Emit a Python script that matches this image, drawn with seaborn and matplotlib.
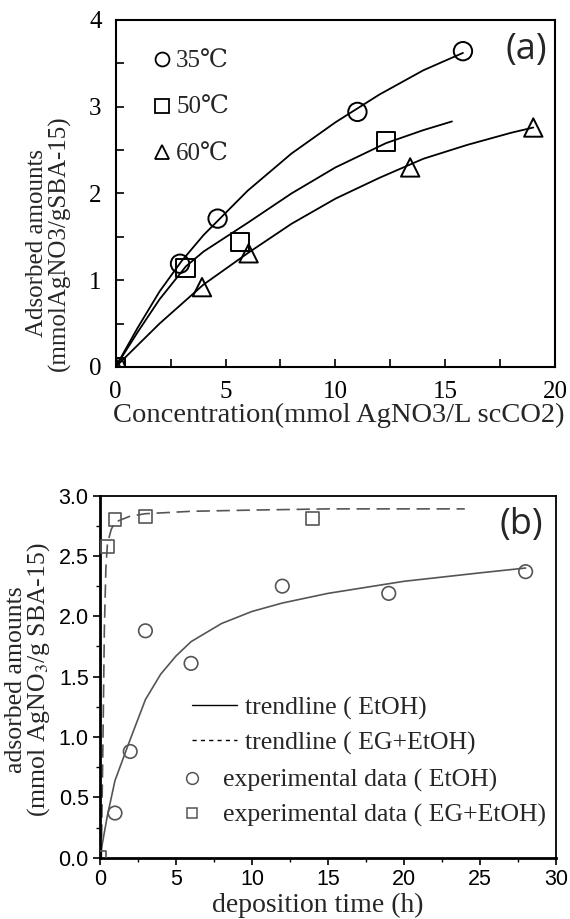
import numpy as np
import pandas as pd
import matplotlib
matplotlib.use("Agg")
import matplotlib.pyplot as plt
from matplotlib.lines import Line2D
from matplotlib.ticker import MultipleLocator, FormatStrFormatter
import seaborn as sns

sns.set_theme(style="white")
plt.rcParams['font.family'] = ['Liberation Serif', 'DejaVu Serif', 'DejaVu Sans']
plt.rcParams['mathtext.fontset'] = 'stix'

# ---------------- Panel (a) data ----------------
temps = ["35℃", "50℃", "60℃"]
markers_a = ["o", "s", "^"]
x35 = [0, 2.93, 4.64, 11.0, 15.8]
y35 = [0, 1.19, 1.71, 2.94, 3.64]
x50 = [0, 3.18, 5.67, 12.3]
y50 = [0, 1.14, 1.44, 2.60]
x60 = [0, 3.93, 6.05, 13.4, 19.0]
y60 = [0, 0.92, 1.31, 2.30, 2.76]
# fitted curves
cx35 = [0, 1, 2, 3, 4, 6, 8, 10, 12, 14, 15.8]
cy35 = [0, 0.45, 0.87, 1.22, 1.52, 2.03, 2.46, 2.82, 3.14, 3.42, 3.62]
cx50 = [0, 1, 2, 3.2, 4, 6, 8, 10, 12.3, 14, 15.3]
cy50 = [0, 0.40, 0.78, 1.16, 1.33, 1.66, 2.00, 2.30, 2.58, 2.73, 2.83]
cx60 = [0, 2, 4, 6, 8, 10, 12, 14, 16, 18, 19]
cy60 = [0, 0.50, 0.95, 1.31, 1.65, 1.94, 2.18, 2.40, 2.56, 2.70, 2.76]

# ---------------- Panel (b) data ----------------
t_etoh = [1, 2, 3, 6, 12, 19, 28]
q_etoh = [0.37, 0.88, 1.88, 1.61, 2.25, 2.19, 2.37]
t_eg = [0, 0.5, 1, 3, 14]
q_eg = [0.0, 2.58, 2.80, 2.83, 2.81]
ct_etoh = [0, 0.5, 1, 2, 3, 4, 5, 6, 8, 10, 12, 15, 20, 25, 28]
cq_etoh = [0, 0.35, 0.64, 0.98, 1.31, 1.52, 1.67, 1.79, 1.94, 2.04, 2.11, 2.19, 2.29, 2.36, 2.40]
ct_eg = [0.1, 0.2, 0.3, 0.4, 0.5, 0.75, 1, 2, 3, 6, 10, 15, 24]
cq_eg = [0.0, 0.9, 1.9, 2.4, 2.6, 2.72, 2.78, 2.83, 2.85, 2.87, 2.88, 2.89, 2.89]
leg_b = ["trendline ( EtOH)", "trendline ( EG+EtOH)",
         "experimental data ( EtOH)", "experimental data ( EG+EtOH)"]

fig = plt.figure(figsize=(5.7, 9.19), dpi=100)
ax1 = fig.add_axes([0.2028, 0.6007, 0.7714, 0.3776])
ax2 = fig.add_axes([0.1751, 0.0667, 0.8004, 0.394])

# ---- panel a ----
serif = ['Liberation Serif', 'DejaVu Serif', 'DejaVu Sans']
for cx, cy in [(cx35, cy35), (cx50, cy50), (cx60, cy60)]:
    sns.lineplot(x=cx, y=cy, ax=ax1, color='black', lw=1.3, sort=False, estimator=None)
for (xs, ys), m in zip([(x35, y35), (x50, y50), (x60, y60)], markers_a):
    sns.scatterplot(x=xs, y=ys, ax=ax1, marker=m, s=175, facecolor='none',
                    edgecolor='black', linewidth=1.4, zorder=3)
ax1.set_xlim(0, 20)
ax1.set_ylim(0, 4)
ax1.xaxis.set_major_locator(MultipleLocator(5))
ax1.xaxis.set_minor_locator(MultipleLocator(2.5))
ax1.yaxis.set_major_locator(MultipleLocator(1))
ax1.yaxis.set_minor_locator(MultipleLocator(0.5))
ax1.tick_params(which='both', direction='in', length=6, width=1.2, colors='black',
                bottom=True, left=True, top=False, right=False, labelsize=18, pad=10)
for sp in ax1.spines.values():
    sp.set_color('black'); sp.set_linewidth(1.5)
ax1.set_xlabel("")
ax1.set_ylabel("")
fig.text(0.595, 0.548, "Concentration(mmol AgNO3/L scCO2)", ha='center', va='center',
         fontsize=20.5, family=serif)
fig.text(0.085, 0.7356, "Adsorbed amounts\n(mmolAgNO3/gSBA-15)", ha='center', va='center',
         rotation=90, fontsize=18, family=serif, linespacing=0.95)
ax1.text(0.933, 0.912, "(a)", transform=ax1.transAxes, ha='center', va='center',
         fontsize=26, family=['Open Sans', 'DejaVu Sans'])
handles_a = [Line2D([], [], marker=m, ls='', mfc='none', mec='black', mew=1.3, ms=10)
             for m in markers_a]
ax1.legend(handles_a, temps, loc='upper left', bbox_to_anchor=(0.055, 0.955), frameon=False,
           prop={'family': serif, 'size': 18}, handlelength=0.6, handletextpad=0.25,
           labelspacing=0.95, borderaxespad=0.2)

# ---- panel b ----
gray = '#555555'
sns.lineplot(x=ct_etoh, y=cq_etoh, ax=ax2, color=gray, lw=1.2, sort=False, estimator=None)
sns.lineplot(x=ct_eg, y=cq_eg, ax=ax2, color=gray, lw=1.2, sort=False, estimator=None,
             dashes=False, linestyle=(0, (8, 4)))
sns.scatterplot(x=t_etoh, y=q_etoh, ax=ax2, marker='o', s=95, facecolor='none',
                edgecolor=gray, linewidth=1.2, zorder=3)
sns.scatterplot(x=t_eg, y=q_eg, ax=ax2, marker='s', s=85, facecolor='none',
                edgecolor=gray, linewidth=1.2, zorder=3)
ax2.set_xlim(0, 30)
ax2.set_ylim(0, 3.0)
ax2.xaxis.set_major_locator(MultipleLocator(5))
ax2.xaxis.set_minor_locator(MultipleLocator(2.5))
ax2.yaxis.set_major_locator(MultipleLocator(0.5))
ax2.yaxis.set_minor_locator(MultipleLocator(0.25))
ax2.yaxis.set_major_formatter(FormatStrFormatter('%.1f'))
ax2.tick_params(which='major', direction='out', length=5, width=1.2, colors='black',
                bottom=True, left=True, labelsize=15.5, pad=3)
ax2.tick_params(which='minor', direction='out', length=3, width=1.0, colors='black',
                bottom=True, left=True)
for lab in ax2.get_xticklabels() + ax2.get_yticklabels():
    lab.set_family(['Liberation Sans', 'DejaVu Sans'])
for k, sp in ax2.spines.items():
    sp.set_color('black')
    sp.set_linewidth(2.0 if k in ('left', 'bottom') else 1.3)
ax2.set_xlabel("")
ax2.set_ylabel("")
fig.text(0.558, 0.0152, "deposition time (h)", ha='center', va='center', fontsize=20, family=serif)
fig.text(0.05, 0.26, "adsorbed amounts\n(mmol AgNO$_3$/g SBA-15)", ha='center', va='center',
         rotation=90, fontsize=18.5, family=serif, linespacing=0.95)
ax2.text(0.923, 0.92, "(b)", transform=ax2.transAxes, ha='center', va='center',
         fontsize=26, family=['Open Sans', 'DejaVu Sans'])
h_lines = [Line2D([], [], color='black', lw=1.0),
           Line2D([], [], color='black', lw=1.0, ls=(0, (3, 3)))]
leg1 = ax2.legend(h_lines, leg_b[:2], loc='center left', bbox_to_anchor=(0.18, 0.365),
                  frameon=False, prop={'family': serif, 'size': 18.5}, handlelength=1.75,
                  handletextpad=0.31, labelspacing=0.45, borderaxespad=0)
ax2.add_artist(leg1)
h_mk = [Line2D([], [], marker='o', ls='', mfc='none', mec=gray, mew=1.1, ms=8.5),
        Line2D([], [], marker='s', ls='', mfc='none', mec=gray, mew=1.1, ms=7.5)]
ax2.legend(h_mk, leg_b[2:], loc='center left', bbox_to_anchor=(0.158, 0.165),
           frameon=False, prop={'family': serif, 'size': 18.5}, handlelength=0.8,
           handletextpad=0.78, labelspacing=0.45, borderaxespad=0)

fig.savefig("out.png", dpi=100)
